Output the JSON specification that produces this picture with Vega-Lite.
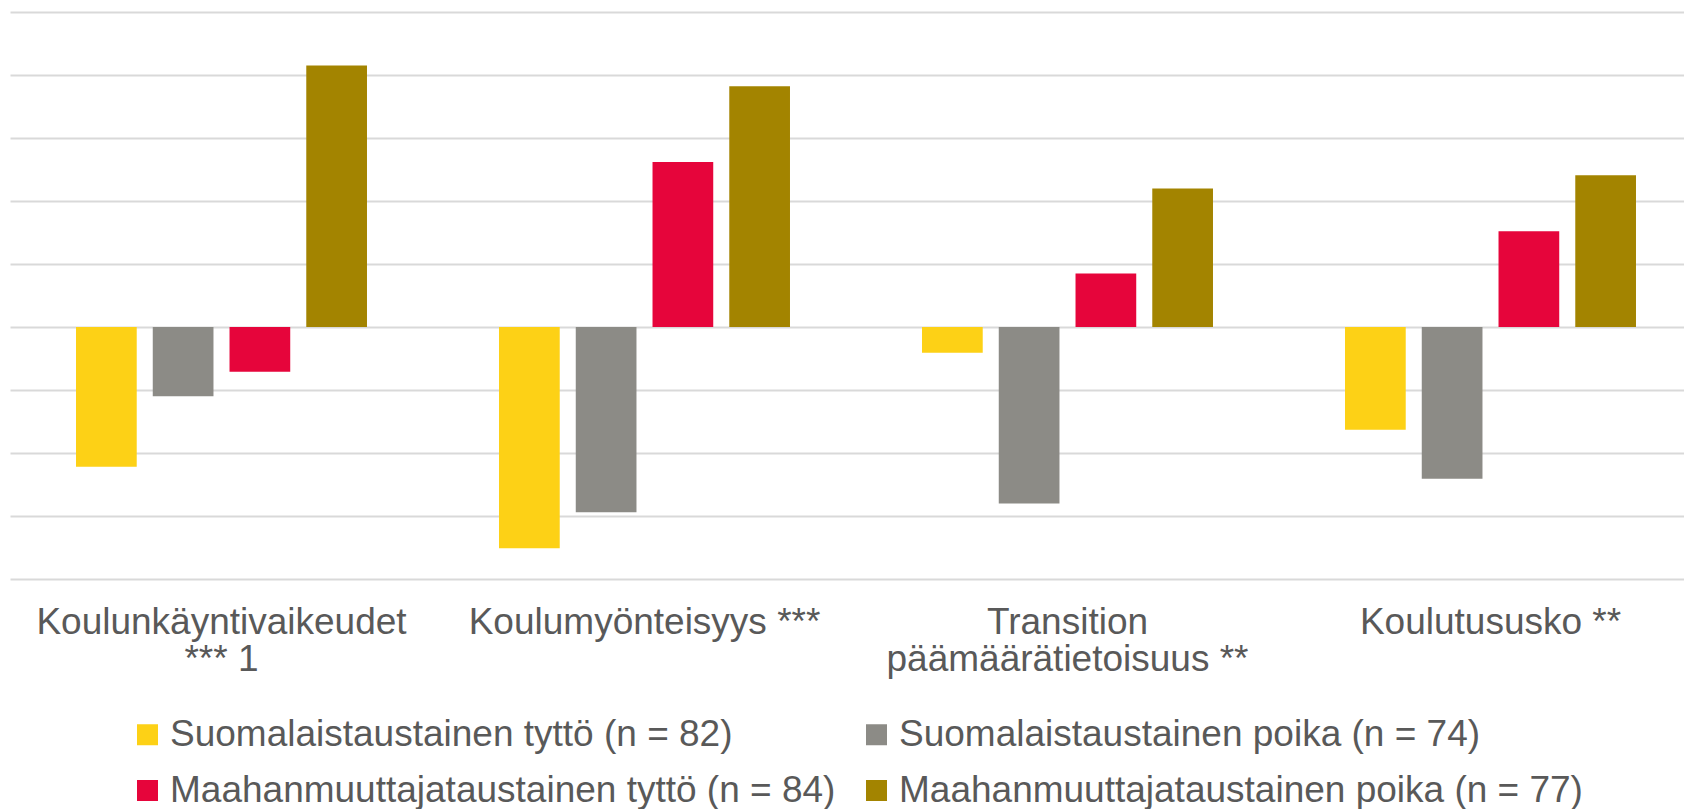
{
  "$schema": "https://vega.github.io/schema/vega-lite/v6.json",
  "width": 1674,
  "height": 567,
  "autosize": {"type": "none"},
  "padding": {"left": 10, "top": 12, "right": 0, "bottom": 230},
  "background": "white",
  "config": {
    "view": {"stroke": null},
    "font": "Liberation Sans"
  },
  "data": {
    "values": [
      {"kategoria": "Koulunkäyntivaikeudet|*** 1", "ryhma": "Suomalaistaustainen tyttö (n = 82)", "arvo": -0.222},
      {"kategoria": "Koulunkäyntivaikeudet|*** 1", "ryhma": "Suomalaistaustainen poika (n = 74)", "arvo": -0.110},
      {"kategoria": "Koulunkäyntivaikeudet|*** 1", "ryhma": "Maahanmuuttajataustainen tyttö (n = 84)", "arvo": -0.071},
      {"kategoria": "Koulunkäyntivaikeudet|*** 1", "ryhma": "Maahanmuuttajataustainen poika (n = 77)", "arvo": 0.415},
      {"kategoria": "Koulumyönteisyys ***", "ryhma": "Suomalaistaustainen tyttö (n = 82)", "arvo": -0.351},
      {"kategoria": "Koulumyönteisyys ***", "ryhma": "Suomalaistaustainen poika (n = 74)", "arvo": -0.294},
      {"kategoria": "Koulumyönteisyys ***", "ryhma": "Maahanmuuttajataustainen tyttö (n = 84)", "arvo": 0.262},
      {"kategoria": "Koulumyönteisyys ***", "ryhma": "Maahanmuuttajataustainen poika (n = 77)", "arvo": 0.382},
      {"kategoria": "Transition|päämäärätietoisuus **", "ryhma": "Suomalaistaustainen tyttö (n = 82)", "arvo": -0.041},
      {"kategoria": "Transition|päämäärätietoisuus **", "ryhma": "Suomalaistaustainen poika (n = 74)", "arvo": -0.280},
      {"kategoria": "Transition|päämäärätietoisuus **", "ryhma": "Maahanmuuttajataustainen tyttö (n = 84)", "arvo": 0.085},
      {"kategoria": "Transition|päämäärätietoisuus **", "ryhma": "Maahanmuuttajataustainen poika (n = 77)", "arvo": 0.220},
      {"kategoria": "Koulutususko **", "ryhma": "Suomalaistaustainen tyttö (n = 82)", "arvo": -0.163},
      {"kategoria": "Koulutususko **", "ryhma": "Suomalaistaustainen poika (n = 74)", "arvo": -0.241},
      {"kategoria": "Koulutususko **", "ryhma": "Maahanmuuttajataustainen tyttö (n = 84)", "arvo": 0.152},
      {"kategoria": "Koulutususko **", "ryhma": "Maahanmuuttajataustainen poika (n = 77)", "arvo": 0.241}
    ]
  },
  "mark": {"type": "bar"},
  "encoding": {
    "x": {
      "field": "kategoria",
      "type": "nominal",
      "sort": ["Koulunkäyntivaikeudet|*** 1", "Koulumyönteisyys ***", "Transition|päämäärätietoisuus **", "Koulutususko **"],
      "scale": {"range": [0, 1692], "paddingInner": 0, "paddingOuter": 0},
      "title": null,
      "axis": {
        "domain": false,
        "ticks": false,
        "tickSize": 0,
        "labelAngle": 0,
        "labelFontSize": 37,
        "labelColor": "#595959",
        "labelLineHeight": 37,
        "labelPadding": 25,
        "labelLimit": 800,
        "labelOverlap": false,
        "labelFlush": false,
        "labelExpr": "split(datum.label, '|')"
      }
    },
    "xOffset": {
      "field": "ryhma",
      "type": "nominal",
      "sort": ["Suomalaistaustainen tyttö (n = 82)", "Suomalaistaustainen poika (n = 74)", "Maahanmuuttajataustainen tyttö (n = 84)", "Maahanmuuttajataustainen poika (n = 77)"],
      "scale": {"paddingInner": 0.209, "paddingOuter": 0.86}
    },
    "y": {
      "field": "arvo",
      "type": "quantitative",
      "scale": {"domain": [-0.4, 0.5], "nice": false},
      "title": null,
      "axis": {
        "labels": false,
        "ticks": false,
        "domain": false,
        "values": [-0.4, -0.3, -0.2, -0.1, 0, 0.1, 0.2, 0.3, 0.4, 0.5],
        "grid": true,
        "gridColor": "#d9d9d9",
        "gridWidth": 2
      }
    },
    "color": {
      "field": "ryhma",
      "type": "nominal",
      "scale": {
        "domain": ["Suomalaistaustainen tyttö (n = 82)", "Suomalaistaustainen poika (n = 74)", "Maahanmuuttajataustainen tyttö (n = 84)", "Maahanmuuttajataustainen poika (n = 77)"],
        "range": ["#FDD116", "#8C8B86", "#E6053B", "#A38400"]
      },
      "legend": {
        "title": null,
        "orient": "none",
        "legendX": 119,
        "legendY": 704,
        "columns": 2,
        "direction": "horizontal",
        "padding": 0,
        "symbolType": "square",
        "symbolSize": 441,
        "symbolStrokeWidth": 0,
        "symbolOpacity": 1,
        "labelFontSize": 37,
        "labelColor": "#595959",
        "labelOffset": 4,
        "labelLimit": 1000,
        "columnPadding": 22,
        "rowPadding": 18
      }
    }
  }
}
